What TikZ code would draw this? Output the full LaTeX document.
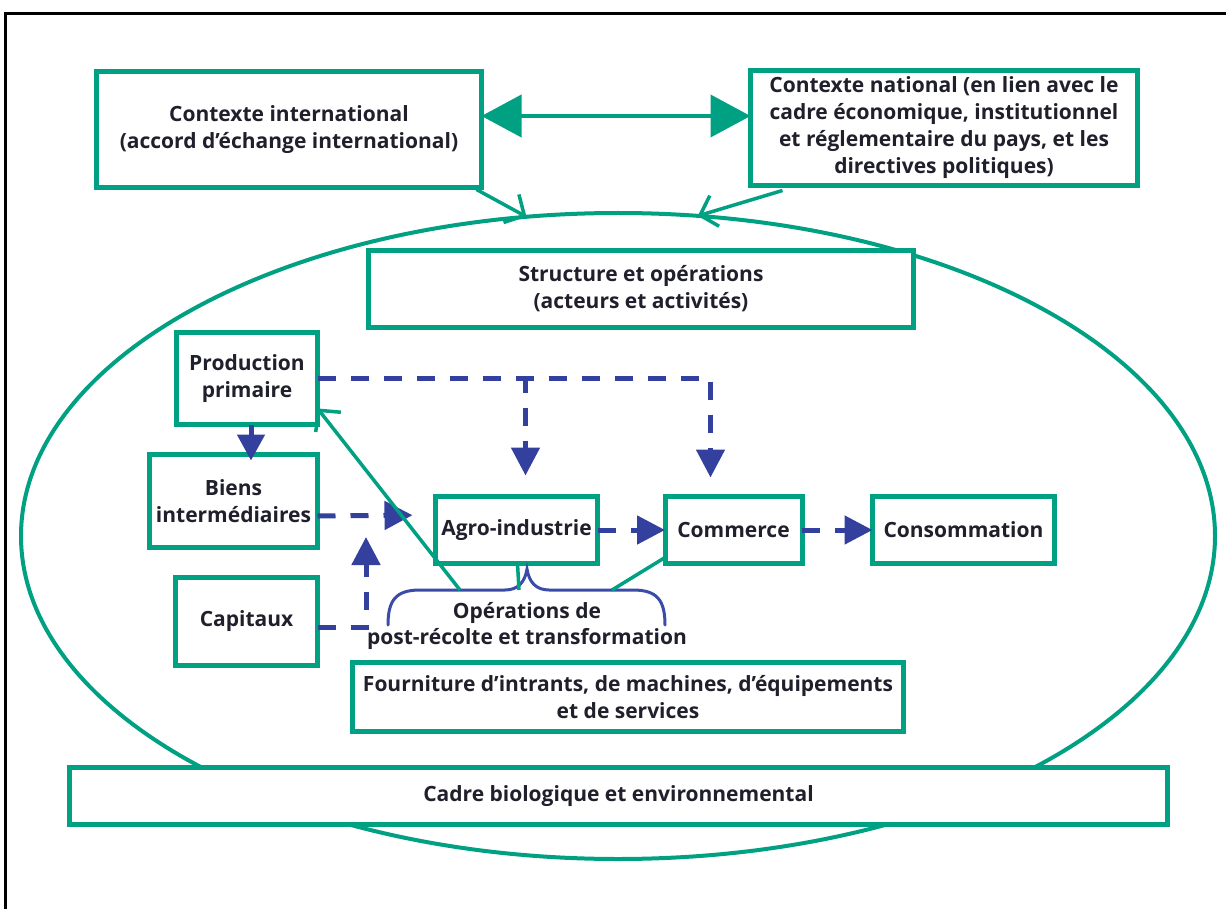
\documentclass[tikz,border=0pt]{standalone}
\usepackage{fontspec}
\setmainfont{Open Sans}
\usetikzlibrary{arrows.meta,shapes.geometric,calc}
\definecolor{vgreen}{HTML}{00A082}
\definecolor{vblue}{HTML}{34409E}
\definecolor{vbrace}{HTML}{3B4CA8}
\definecolor{vtext}{HTML}{20202C}
\begin{document}
\begin{tikzpicture}[x=1pt,y=-1pt,
  box/.style={draw=vgreen, line width=5pt, fill=white, inner sep=0pt, outer sep=0pt,
    align=center, text=vtext, font=\bfseries\fontsize{21}{27}\selectfont},
  lbl/.style={align=center, text=vtext, inner sep=0pt, font=\bfseries\fontsize{21}{26}\selectfont},
  bdash/.style={draw=vblue, line width=5pt, dash pattern=on 18pt off 15pt,
    -{Triangle[length=28pt,width=28pt]}},
  bsolid/.style={draw=vblue, line width=5pt, -{Triangle[length=26pt,width=27pt]}},
  glink/.style={draw=vgreen, line width=3.5pt},
  gopen/.style={draw=vgreen, line width=3.5pt, -{Straight Barb[length=15pt,width=32pt]}},
  gbig/.style={draw=vgreen, line width=4pt,
    {Triangle[length=40pt,width=42pt]}-{Triangle[length=40pt,width=42pt]}}
]
\useasboundingbox (0,0) rectangle (1226,909);
\fill[white] (0,0) rectangle (1226,909);
% outer frame (top and left rules)
\draw[black, line width=2.5pt] (5.5,909) -- (5.5,13.5) -- (1226,13.5);

% surrounding system
\node[ellipse, draw=vgreen, line width=4pt, minimum width=1194pt, minimum height=646pt,
  inner sep=0pt, outer sep=0pt] (env) at (618,536) {};

% boxes
\node[box, minimum width=385pt, minimum height=116pt] (cint) at (289,129.5)
  {Contexte international\\(accord d’échange international)};
\node[box, minimum width=387pt, minimum height=115pt] (cnat) at (944,128)
  {Contexte national (en lien avec le\\cadre économique, institutionnel\\et réglementaire du pays, et les\\directives politiques)};
\node[box, minimum width=545pt, minimum height=77pt] (struct) at (641,289)
  {Structure et opérations\\(acteurs et activités)};
\node[box, minimum width=141pt, minimum height=92pt] (prod) at (247,378.5)
  {Production\\primaire};
\node[box, minimum width=168pt, minimum height=93pt] (biens) at (233.5,501)
  {Biens\\intermédiaires};
\node[box, minimum width=142pt, minimum height=88pt] (cap) at (246.5,621.5)
  {Capitaux};
\node[box, minimum width=162pt, minimum height=67pt] (agro) at (516.5,530)
  {Agro-industrie};
\node[box, minimum width=137pt, minimum height=67pt] (comm) at (733.5,530)
  {Commerce};
\node[box, minimum width=182pt, minimum height=67pt] (cons) at (963.5,530)
  {Consommation};
\node[box, minimum width=551pt, minimum height=69pt] (fourn) at (628,697)
  {Fourniture d’intrants, de machines, d’équipements\\et de services};
\node[box, minimum width=1098pt, minimum height=57pt] (cadre) at (618.5,796)
  {Cadre biologique et environnemental};

% exchanges between the two contexts
\draw[gbig] ([yshift=13.5pt]cint.east) -- ([yshift=12pt]cnat.west);
% contexts acting on the system
\draw[gopen] ([xshift=-5pt,yshift=-2pt]cint.south east) -- (env.106);
\draw[gopen] ([xshift=32pt,yshift=-5pt]cnat.south west) -- (env.76);

% flows of goods
\coordinate (pa) at ([xshift=9pt]agro.north |- prod.east);
\coordinate (pc) at ([xshift=-23pt]comm.north |- prod.east);
\draw[bdash, shorten >=19pt] (prod.east) -- (pc) -- ([xshift=-23pt]comm.north);
\draw[bdash, dash phase=4pt, shorten >=21pt] (pa) -- ([xshift=9pt]agro.north);
\path (prod.south) ++(4,0) coordinate (pb);
\draw[bsolid, shorten >=-6pt] (pb) -- (pb |- biens.north);
\coordinate (bj) at ([yshift=15pt]agro.west -| 366,0);
\draw[bdash, shorten >=23pt] ([yshift=-15pt]biens.east) -- ([yshift=15pt]agro.west);
\coordinate (cj) at ([yshift=-6pt]cap.east -| bj);
\draw[bdash, shorten >=22pt] ([yshift=-6pt]cap.east) -- (cj) -- (bj);
\draw[bdash] (agro.east) -- (comm.west);
\draw[bdash] (comm.east) -- (cons.west);

% post-harvest operations brace
\draw[vbrace, line width=3pt, line cap=round]
  (388,625) .. controls (388,600) and (396,590) .. (420,590) -- (505,590)
  .. controls (518,590) and (525,582) .. (527,569)
  .. controls (529,582) and (536,590) .. (549,590) -- (633,590)
  .. controls (657,590) and (665,600) .. (665,625);
\node[lbl] (ops) at (527,626) {Opérations de\\post-récolte et transformation};
\coordinate (bl) at (460,590);
\coordinate (bm) at (519,590);
\coordinate (br) at (612,590);
\draw[gopen] (bl) -- (prod.-23);
\draw[glink] ([xshift=1pt]agro.south) -- (bm);
\draw[glink] ([yshift=6pt]comm.south west) -- (br);
\end{tikzpicture}
\end{document}
